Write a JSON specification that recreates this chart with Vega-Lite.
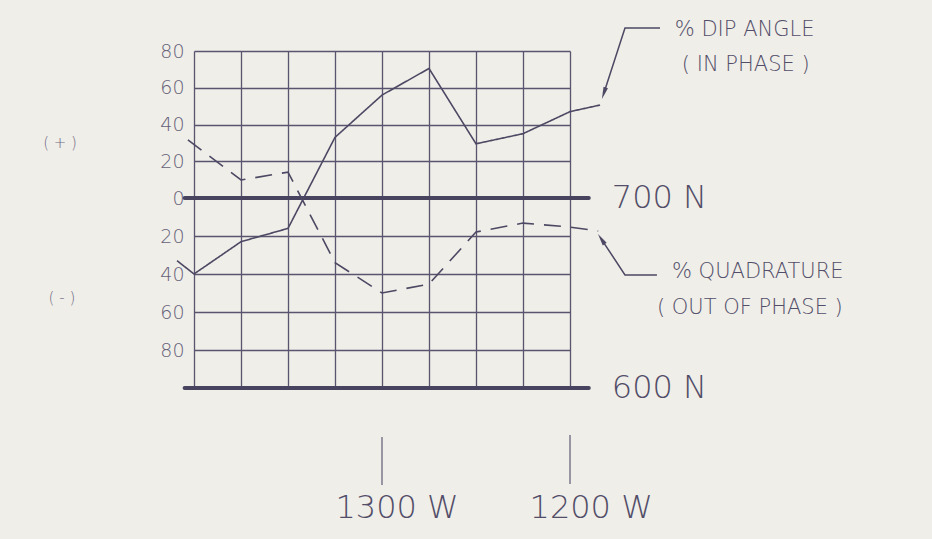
{
  "$schema": "https://vega.github.io/schema/vega-lite/v6.json",
  "width": 376,
  "height": 337,
  "autosize": {"type": "none"},
  "padding": {"left": 194, "top": 51, "right": 362, "bottom": 151},
  "background": "#efeee8",
  "config": {"view": {"stroke": null}, "font": "DejaVu Sans"},
  "datasets": {
    "curves": [
      {"series": "in", "k": 0, "x": -0.36, "y": -33},
      {"series": "in", "k": 1, "x": 0, "y": -40},
      {"series": "in", "k": 2, "x": 1, "y": -23},
      {"series": "in", "k": 3, "x": 2, "y": -16},
      {"series": "in", "k": 4, "x": 3, "y": 33},
      {"series": "in", "k": 5, "x": 4, "y": 56},
      {"series": "in", "k": 6, "x": 5, "y": 70.5},
      {"series": "in", "k": 7, "x": 6, "y": 29.5},
      {"series": "in", "k": 8, "x": 7, "y": 35},
      {"series": "in", "k": 9, "x": 8, "y": 47},
      {"series": "in", "k": 10, "x": 8.64, "y": 50.6},
      {"series": "out", "k": 0, "x": -0.13, "y": 31.6},
      {"series": "out", "k": 1, "x": 1, "y": 9.8},
      {"series": "out", "k": 2, "x": 2, "y": 14.1},
      {"series": "out", "k": 3, "x": 3, "y": -34},
      {"series": "out", "k": 4, "x": 4, "y": -50},
      {"series": "out", "k": 5, "x": 5, "y": -45.3},
      {"series": "out", "k": 6, "x": 6, "y": -17.9},
      {"series": "out", "k": 7, "x": 7, "y": -13.2},
      {"series": "out", "k": 8, "x": 8, "y": -15.3},
      {"series": "out", "k": 9, "x": 8.6, "y": -17.4}
    ],
    "baselines": [
      {"x": -0.2, "x2": 8.4, "y": 0},
      {"x": -0.2, "x2": 8.4, "y": -100}
    ],
    "meridians": [
      {"x": 4, "y": -125.8, "y2": -151},
      {"x": 8, "y": -124.7, "y2": -150.5}
    ],
    "arrows": [
      {"arrow": "dip", "k": 0, "x": 9.915, "y": 92.5},
      {"arrow": "dip", "k": 1, "x": 9.17, "y": 92.5},
      {"arrow": "dip", "k": 2, "x": 8.72, "y": 57.0},
      {"arrow": "quad", "k": 0, "x": 9.85, "y": -40.5},
      {"arrow": "quad", "k": 1, "x": 9.17, "y": -40.5},
      {"arrow": "quad", "k": 2, "x": 8.667, "y": -21.6}
    ],
    "northings": [
      {"label": "700 N", "x": 8.89, "y": 0},
      {"label": "600 N", "x": 8.89, "y": -100}
    ],
    "westings": [
      {"label": "1300 W", "x": 4.32, "y": -163},
      {"label": "1200 W", "x": 8.45, "y": -163}
    ],
    "legend": [
      {"label": "%  DIP  ANGLE", "x": 10.23, "y": 91.4},
      {"label": "( IN  PHASE )", "x": 10.38, "y": 72.4},
      {"label": "%  QUADRATURE", "x": 10.17, "y": -38.9},
      {"label": "( OUT  OF  PHASE )", "x": 9.85, "y": -57.9}
    ],
    "signs": [
      {"label": "( + )", "x": -2.85, "y": 29.9},
      {"label": "( - )", "x": -2.81, "y": -52.6}
    ]
  },
  "encoding": {
    "x": {
      "field": "x",
      "type": "quantitative",
      "scale": {"domain": [0, 8], "nice": false, "zero": false},
      "axis": {
        "values": [0, 1, 2, 3, 4, 5, 6, 7, 8],
        "grid": true,
        "labels": false,
        "ticks": false,
        "domain": false,
        "title": null,
        "gridColor": "#5a556f",
        "gridWidth": 1.3,
        "gridOpacity": 1
      }
    },
    "y": {
      "field": "y",
      "type": "quantitative",
      "scale": {"domain": [-100, 0, 80], "range": [337, 147, 0], "nice": false, "zero": false},
      "axis": {
        "values": [-80, -60, -40, -20, 0, 20, 40, 60, 80],
        "labelExpr": "abs(datum.value)",
        "grid": true,
        "ticks": false,
        "domain": false,
        "title": null,
        "gridColor": "#5a556f",
        "gridWidth": 1.3,
        "gridOpacity": 1,
        "labelFont": "DejaVu Sans",
        "labelFontSize": 19,
        "labelFontWeight": 200,
        "labelColor": "#666179",
        "labelPadding": 10
      }
    }
  },
  "layer": [
    {
      "data": {"name": "baselines"},
      "mark": {"type": "rule", "color": "#48435e", "strokeWidth": 4, "strokeCap": "round"},
      "encoding": {"x2": {"field": "x2"}}
    },
    {
      "data": {"name": "curves"},
      "mark": {"type": "line", "color": "#4d4863", "strokeWidth": 1.6},
      "encoding": {
        "detail": {"field": "series"},
        "order": {"field": "k", "type": "quantitative"},
        "strokeDash": {
          "field": "series",
          "type": "nominal",
          "scale": {"domain": ["in", "out"], "range": [[1, 0], [17, 10]]},
          "legend": null
        }
      }
    },
    {
      "data": {"name": "meridians"},
      "mark": {"type": "rule", "color": "#5f5a74", "strokeWidth": 1.2},
      "encoding": {"y2": {"field": "y2"}}
    },
    {
      "data": {"name": "arrows"},
      "mark": {"type": "line", "color": "#4d4863", "strokeWidth": 1.5},
      "encoding": {
        "detail": {"field": "arrow"},
        "order": {"field": "k", "type": "quantitative"}
      }
    },
    {
      "data": {"values": [{"x": 8.72, "y": 57.0}]},
      "mark": {"type": "point", "shape": "M0,-1L0.38,1L-0.38,1Z", "filled": true, "size": 150, "angle": 198, "color": "#4d4863", "opacity": 1}
    },
    {
      "data": {"values": [{"x": 8.667, "y": -21.6}]},
      "mark": {"type": "point", "shape": "M0,-1L0.38,1L-0.38,1Z", "filled": true, "size": 150, "angle": 326.6, "color": "#4d4863", "opacity": 1}
    },
    {
      "data": {"name": "northings"},
      "mark": {"type": "text", "align": "left", "baseline": "middle", "fontSize": 32, "fontWeight": 200, "color": "#524d68"},
      "encoding": {"text": {"field": "label"}}
    },
    {
      "data": {"name": "westings"},
      "mark": {"type": "text", "align": "center", "baseline": "middle", "fontSize": 32, "fontWeight": 200, "color": "#524d68"},
      "encoding": {"text": {"field": "label"}}
    },
    {
      "data": {"name": "legend"},
      "mark": {"type": "text", "align": "left", "baseline": "middle", "fontSize": 21, "fontWeight": 200, "color": "#524d68"},
      "encoding": {"text": {"field": "label"}}
    },
    {
      "data": {"name": "signs"},
      "mark": {"type": "text", "align": "center", "baseline": "middle", "fontSize": 15, "fontWeight": 200, "color": "#6f6a84"},
      "encoding": {"text": {"field": "label"}}
    }
  ]
}
